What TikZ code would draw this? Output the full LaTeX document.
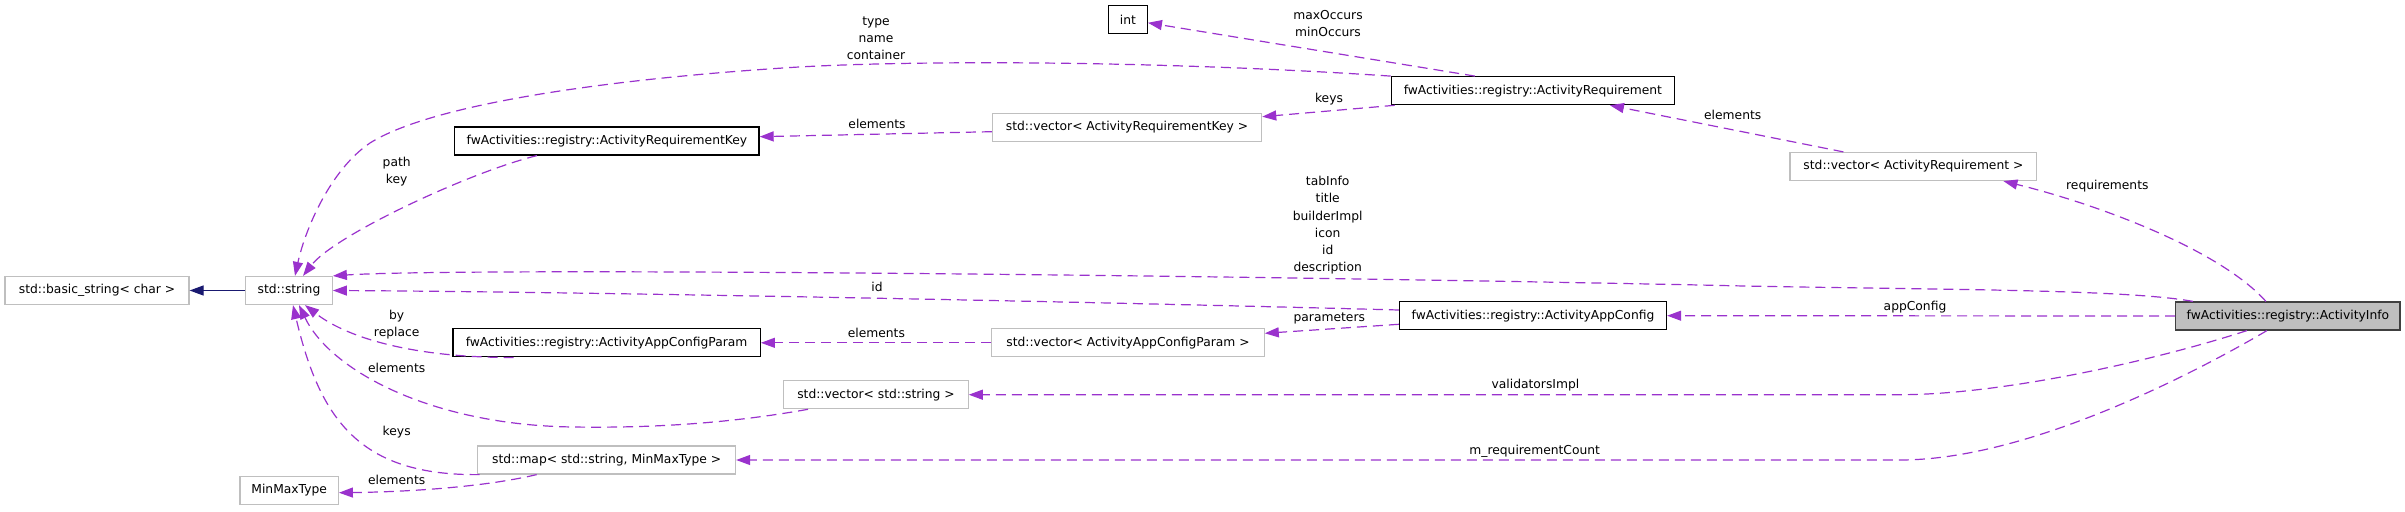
\documentclass[tikz,border=0pt]{standalone}
\usepackage{fontspec}
\setmainfont{DejaVu Sans}
\usepackage{tikz}
\usetikzlibrary{arrows.meta}
\definecolor{depline}{RGB}{154,50,205}
\definecolor{inhline}{RGB}{25,25,112}
\definecolor{boxgray}{RGB}{191,191,191}
\definecolor{focusfill}{RGB}{191,191,191}
\definecolor{focusedge}{RGB}{64,64,64}
\newcommand{\dgfont}{\fontsize{12.3}{17.2}\selectfont}
\tikzset{
  extclass/.style={rectangle, draw=boxgray, fill=white,
    minimum height=28pt, inner xsep=0pt, inner ysep=0pt,
    font=\dgfont, line width=1.2pt},
  docclass/.style={extclass, draw=black},
  focusclass/.style={extclass, draw=focusedge, fill=focusfill},
  uses/.style={-{Triangle[length=14pt,width=10pt]}, dash pattern=on 10pt off 6pt,
    line width=1.2pt, color=depline},
  inherits/.style={-{Triangle[length=14pt,width=10pt]}, line width=1.2pt, color=inhline},
  memlabel/.style={font=\dgfont, align=center, inner sep=0pt}
}

\begin{document}
\begin{tikzpicture}[x=1pt, y=-1pt]
  \useasboundingbox (0,0) rectangle (2405,511);

  % Classes, left to right
  \node[extclass, minimum width=184pt] (basic) at (97,290.5) {std::basic\_string< char >};
  \node[extclass, minimum width=86.6pt] (str) at (289,290.5) {std::string};
  \node[extclass, minimum width=98.3pt] (mmt) at (289.2,490.5) {MinMaxType};
  \node[docclass, minimum width=304.3pt] (ark) at (606.9,141) {fwActivities::registry::ActivityRequirementKey};
  \node[docclass, minimum width=307.4pt] (aacp) at (606.6,342.8) {fwActivities::registry::ActivityAppConfigParam};
  \node[extclass, minimum width=257.7pt] (map) at (606.7,460) {std::map< std::string, MinMaxType >};
  \node[extclass, minimum width=184.3pt] (vstr) at (876,394.7) {std::vector< std::string >};
  \node[extclass, minimum width=269.3pt] (vark) at (1127,127.5) {std::vector< ActivityRequirementKey >};
  \node[extclass, minimum width=272.4pt] (vaacp) at (1128,342.8) {std::vector< ActivityAppConfigParam >};
  \node[docclass, minimum width=38.7pt] (int) at (1128,19.8) {int};
  \node[docclass, minimum width=283.2pt] (ar) at (1532.9,90.7) {fwActivities::registry::ActivityRequirement};
  \node[docclass, minimum width=267.1pt] (aac) at (1533,315.7) {fwActivities::registry::ActivityAppConfig};
  \node[extclass, minimum width=246.9pt] (var) at (1913.4,166.5) {std::vector< ActivityRequirement >};
  \node[focusclass, minimum width=224.3pt] (info) at (2287.9,316) {fwActivities::registry::ActivityInfo};

  % Inheritance
  \draw[inherits] (str.west) -- (basic.east);

  % ActivityRequirement members
  \draw[uses] (ar.north west) .. controls (1150,60) and (900,60) .. (783,68)
    .. controls (600,80) and (430,105) .. (370,143)
    .. controls (330,170) and (305,230) .. ([xshift=6pt]str.north);
  \draw[uses] ([xshift=-58pt]ar.north) -- ([yshift=-3pt]int.east);
  \draw[uses] ([xshift=4pt]ar.south west) -- ([yshift=10.8pt]vark.east);
  \draw[uses] ([yshift=-4.2pt]vark.west) -- ([yshift=4.3pt]ark.east);
  \draw[uses] ([xshift=-70pt]ark.south) .. controls (470,172) and (335,235) .. ([xshift=14pt]str.north);
  \draw[uses] ([xshift=-70pt]var.north) -- ([xshift=77pt]ar.south);

  % ActivityInfo members
  \draw[uses] ([xshift=-22pt]info.north) .. controls (2220,250) and (2100,205) .. ([xshift=90pt]var.south);
  \draw[uses] ([xshift=-95pt]info.north) .. controls (2120,288) and (1900,290) .. (1700,285)
    .. controls (1100,273) and (450,268) .. (str.north east);
  \draw[uses] (info.west) -- (aac.east);
  \draw[uses] ([xshift=-41pt]info.south) .. controls (2150,362) and (2000,394.7) .. (1900,394.7) -- (vstr.east);
  \draw[uses] ([xshift=-21pt]info.south) .. controls (2200,370) and (2030,460) .. (1900,460) -- (map.east);

  % ActivityAppConfig members
  \draw[uses] ([yshift=5.7pt]aac.west) .. controls (1100,302) and (600,292) .. (str.east);
  \draw[uses] ([yshift=-8.6pt]aac.west) -- ([yshift=9.5pt]vaacp.east);
  \draw[uses] (vaacp.west) -- (aacp.east);
  \draw[uses] ([xshift=-93pt]aacp.south) .. controls (420,358) and (350,340) .. ([xshift=16pt]str.south);

  % Containers
  \draw[uses] ([xshift=-68pt]vstr.south) .. controls (720,425) and (640,428) .. (573,427)
    .. controls (430,425) and (330,370) .. ([xshift=10pt]str.south);
  \draw[uses] ([xshift=-127pt]map.south) .. controls (360,476) and (320,420) .. ([xshift=4pt]str.south);
  \draw[uses] ([xshift=-70pt]map.south) .. controls (480,488) and (400,492) .. ([yshift=-2.2pt]mmt.east);

  % Member labels
  \node[memlabel] (l-req) at (876,38) {type\\name\\container};
  \node[memlabel] (l-occ) at (1328,23.3) {maxOccurs\\minOccurs};
  \node[memlabel] (l-keys) at (1329,98.7) {keys};
  \node[memlabel] (l-arkel) at (877,123.7) {elements};
  \node[memlabel] (l-arel) at (1732.7,115) {elements};
  \node[memlabel] (l-reqs) at (2107.3,186) {requirements};
  \node[memlabel] (l-pathkey) at (396.7,172) {path\\key};
  \node[memlabel] (l-info) at (1327.7,225.3) {tabInfo\\title\\builderImpl\\icon\\id\\description};
  \node[memlabel] (l-id) at (877,287.3) {id};
  \node[memlabel] (l-app) at (1915,306.7) {appConfig};
  \node[memlabel] (l-params) at (1329.3,318.3) {parameters};
  \node[memlabel] (l-aacpel) at (876.4,332.7) {elements};
  \node[memlabel] (l-byrep) at (396.7,325) {by\\replace};
  \node[memlabel] (l-vstrel) at (396.7,368.3) {elements};
  \node[memlabel] (l-valid) at (1535.4,384.7) {validatorsImpl};
  \node[memlabel] (l-mkeys) at (396.7,431.7) {keys};
  \node[memlabel] (l-count) at (1534.7,451) {m\_requirementCount};
  \node[memlabel] (l-mmtel) at (396.7,480) {elements};
\end{tikzpicture}
\end{document}
